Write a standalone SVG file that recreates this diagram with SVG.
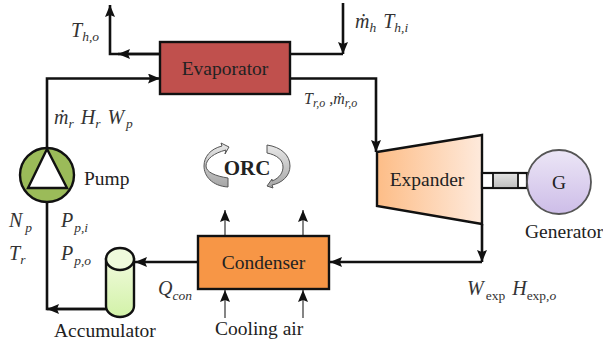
<svg xmlns="http://www.w3.org/2000/svg" width="603" height="347" viewBox="0 0 603 347">
<style>
text{font-family:"Liberation Serif","Times New Roman",serif;fill:#222}
.lb{font-size:19.500px}
.v{font-size:20px;font-style:italic;fill:#333}
.s{font-size:13.500px}
.up{font-style:normal}
.m{font-size:16px}
.ms{font-size:12px}
.c{fill:none;stroke:#111;stroke-width:2.6}
.t{fill:none;stroke:#333;stroke-width:1.2}
.n{stroke:#111;stroke-width:2.4}
</style>
<defs>
<marker id="a" markerUnits="userSpaceOnUse" markerWidth="13" markerHeight="10" refX="12" refY="5" orient="auto"><path d="M0 0L12 5L0 10L2 5Z" fill="#111"/></marker>
<linearGradient id="ge" x1="0" x2="1" y1="0" y2="0"><stop offset="0" stop-color="#fdbd87"/><stop offset="1" stop-color="#feeadc"/></linearGradient>
<linearGradient id="ga" x1="0" x2="0" y1="0" y2="1"><stop offset="0" stop-color="#f0fadb"/><stop offset="1" stop-color="#d2f2a8"/></linearGradient>
<linearGradient id="gg" x1="0" x2="0" y1="0" y2="1"><stop offset="0" stop-color="#ece6f6"/><stop offset="1" stop-color="#cdbde8"/></linearGradient>
<linearGradient id="gs" x1="0" x2="0" y1="0" y2="1"><stop offset="0" stop-color="#e4e4e4"/><stop offset="1" stop-color="#bdbdbd"/></linearGradient>
<linearGradient id="go" x1="0" x2="0" y1="0" y2="1"><stop offset="0" stop-color="#e8e8e8"/><stop offset="1" stop-color="#a6a6a6"/></linearGradient>
</defs>
<g id="connectors">
<path class="c" d="M160 54H110V5" marker-end="url(#a)"/>
<path class="c" d="M160 54H118" marker-end="url(#a)"/>
<path class="c" d="M343 3V54" marker-end="url(#a)"/>
<path class="c" d="M343 54H290"/>
<path class="c" d="M47 149V78.500H160" marker-end="url(#a)"/>
<path class="c" d="M290 78.500H376V152" marker-end="url(#a)"/>
<path class="c" d="M482 224V262" marker-end="url(#a)"/>
<path class="c" d="M482 262H330" marker-end="url(#a)"/>
<path class="c" d="M198 262H135" marker-end="url(#a)"/>
<path class="c" d="M106 309H47V202"/>
<path class="c" d="M106 309H47" marker-end="url(#a)"/>
<path class="t" d="M225 236V210" marker-end="url(#a)"/>
<path class="t" d="M303 236V210" marker-end="url(#a)"/>
<path class="t" d="M225 318V290" marker-end="url(#a)"/>
<path class="t" d="M303 318V290" marker-end="url(#a)"/>
</g>
<g id="evaporator"><rect class="n" x="160" y="42" width="130" height="52" fill="#c0504d"/><text class="lb" x="225" y="75" text-anchor="middle" fill="#2a0f0f">Evaporator</text></g>
<g id="pump"><circle class="n" cx="47" cy="175" r="27" fill="#9bbb59"/><path class="n" d="M47 149L28 188H67Z" fill="#fff"/><text class="lb" x="84" y="185">Pump</text></g>
<g id="accumulator"><path class="n" d="M106 259V306A14 11 0 0 0 134 306V259Z" fill="url(#ga)"/><ellipse class="n" cx="120" cy="259" rx="14" ry="11" fill="#effadc"/><text class="lb" x="54" y="337">Accumulator</text></g>
<g id="condenser"><rect class="n" x="198" y="236" width="131" height="53" fill="#f79646"/><text class="lb" x="263.500" y="269" text-anchor="middle" fill="#1a1008">Condenser</text></g>
<g id="expander"><path class="n" d="M377 152L482 135V224L377 206Z" fill="url(#ge)"/><text class="lb" x="427" y="186" text-anchor="middle">Expander</text></g>
<g id="shaft"><rect x="482" y="173" width="45" height="15" fill="#fff" stroke="#111" stroke-width="2.200"/><rect x="493" y="173" width="25" height="15" fill="url(#gs)" stroke="#111" stroke-width="1.800"/></g>
<g id="generator"><circle cx="559" cy="182" r="32" fill="url(#gg)" stroke="#555" stroke-width="1.800"/><text class="lb" x="559" y="189" text-anchor="middle">G</text><text class="lb" x="525" y="238">Generator</text></g>
<g id="orc">
<path d="M226 150C214 153 206 159 206 166C206 172 215 176 228 178V187C212 186 204 176 204 166C204 157 210 149 222 146L221 143L229 147L225 154Z" fill="url(#go)" stroke="#555" stroke-width="1"/>
<path d="M267 145C281 147 290 155 290 166C290 176 282 183 272 185L273 188L267 186L272 179L272 181C280 178 283 172 283 167C283 160 277 155 267 153Z" fill="url(#go)" stroke="#555" stroke-width="1"/>
<text x="247" y="175" text-anchor="middle" font-size="21" font-weight="bold" fill="#111">ORC</text>
</g>
<g id="labels">
<text class="v" x="71" y="37">T<tspan class="s" dy="4">h,o</tspan></text>
<text class="v" x="355" y="28">ṁ<tspan class="s" dy="4">h</tspan><tspan dy="-4" dx="7">T</tspan><tspan class="s" dy="4">h,i</tspan></text>
<text class="v" x="54" y="124">ṁ<tspan class="s" dy="4">r</tspan><tspan dy="-4" dx="7">H</tspan><tspan class="s" dy="4">r</tspan><tspan dy="-4" dx="7">W</tspan><tspan class="s" dy="4" dx="2">p</tspan></text>
<text class="v m" x="304" y="104">T<tspan class="ms" dy="3">r,o</tspan><tspan dy="-3"> ,ṁ</tspan><tspan class="ms" dy="3">r,o</tspan></text>
<text class="v" x="9" y="227">N<tspan class="s" dy="5" dx="3">p</tspan></text>
<text class="v" x="9" y="260">T<tspan class="s" dy="4">r</tspan></text>
<text class="v" x="61" y="227">P<tspan class="s" dy="5" dx="1">p,i</tspan></text>
<text class="v" x="61" y="260">P<tspan class="s" dy="5" dx="1">p,o</tspan></text>
<text class="v" x="158" y="295">Q<tspan class="s" dy="5">con</tspan></text>
<text class="lb" x="215" y="335">Cooling air</text>
<text class="v" x="467" y="295">W<tspan class="s up" dy="5" dx="2">exp</tspan><tspan dy="-5" dx="7">H</tspan><tspan class="s up" dy="5">exp,</tspan><tspan class="s">o</tspan></text>
</g>
</svg>
